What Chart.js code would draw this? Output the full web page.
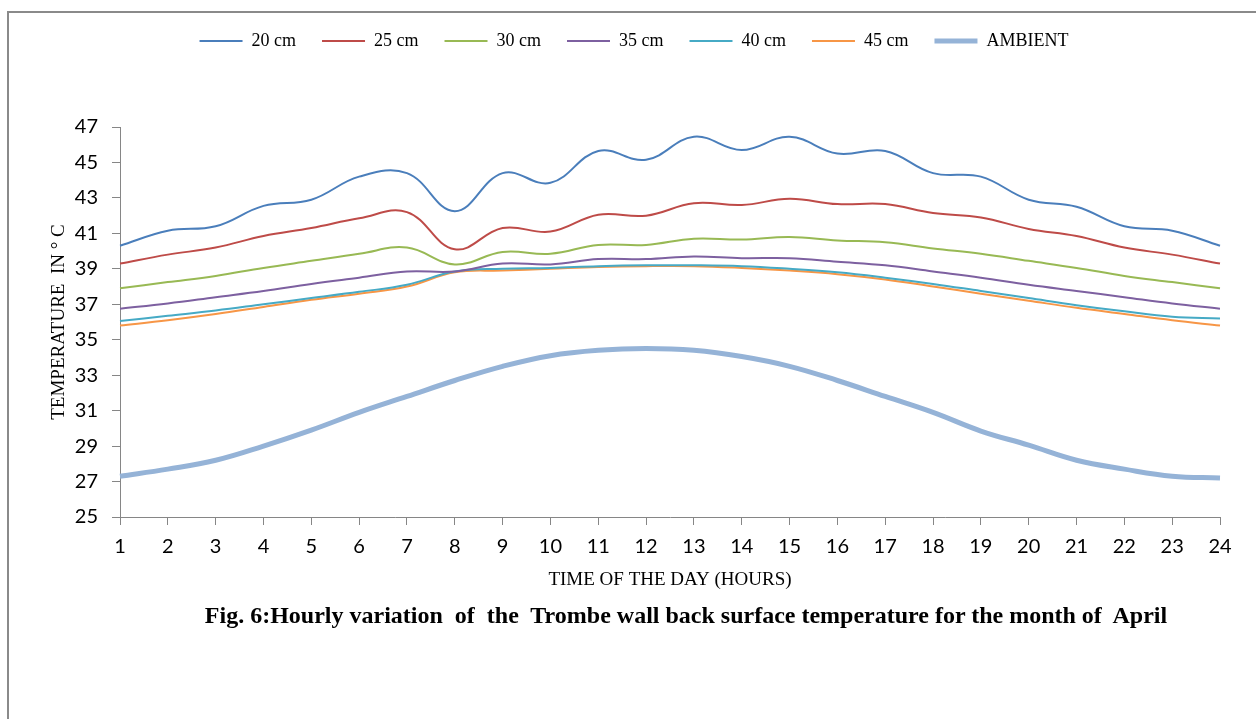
<!DOCTYPE html>
<html>
<head>
<meta charset="utf-8">
<script src="https://cdn.jsdelivr.net/npm/chart.js@4"></script>
<style>
  body { margin: 0; background: #fff; }
  #wrap { position: relative; width: 1256px; height: 719px; overflow: hidden; }
  #frame { position: absolute; left: 7px; top: 11px; width: 1260px; height: 720px;
           border-top: 2px solid #8a8a8a; border-left: 2px solid #8a8a8a; }
  #chart { position: absolute; left: 0; top: 0; }
  #caption { position: absolute; left: 0; width: 1372px; top: 602px; text-align: center;
             font: bold 24px "Liberation Serif", serif; white-space: pre; color: #000; }
</style>
</head>
<body>
<div id="wrap">
  <div id="frame"></div>
  <canvas id="chart" width="1256" height="719"></canvas>
  <div id="caption">Fig. 6:Hourly variation  of  the  Trombe wall back surface temperature for the month of  April</div>
</div>
<script>
// hours of the day
const hours = ["1","2","3","4","5","6","7","8","9","10","11","12","13","14","15","16","17","18","19","20","21","22","23","24"];

// back surface temperature for each wall thickness (deg C)
const wall20 = [40.3,41.15,41.4,42.55,42.9,44.2,44.4,42.25,44.4,43.85,45.65,45.15,46.45,45.7,46.45,45.5,45.65,44.4,44.2,42.9,42.5,41.4,41.15,40.3];
const wall25 = [39.3,39.8,40.2,40.85,41.3,41.85,42.2,40.1,41.3,41.1,42.05,42.0,42.7,42.6,42.95,42.65,42.65,42.15,41.9,41.25,40.85,40.2,39.8,39.3];
const wall30 = [37.9,38.25,38.6,39.05,39.45,39.85,40.2,39.25,39.95,39.85,40.35,40.35,40.7,40.65,40.8,40.6,40.5,40.15,39.85,39.45,39.05,38.6,38.25,37.9];
const wall35 = [36.75,37.05,37.4,37.75,38.15,38.5,38.85,38.85,39.3,39.25,39.55,39.55,39.7,39.6,39.6,39.4,39.2,38.85,38.5,38.1,37.75,37.4,37.05,36.75];
const wall40 = [36.05,36.35,36.65,37.0,37.35,37.7,38.1,38.85,39.0,39.05,39.15,39.2,39.2,39.15,39.0,38.8,38.5,38.15,37.75,37.35,36.95,36.6,36.3,36.2];
const wall45 = [35.8,36.1,36.45,36.85,37.25,37.6,38.0,38.8,38.9,39.0,39.1,39.15,39.15,39.05,38.9,38.7,38.4,38.0,37.6,37.2,36.8,36.45,36.1,35.8];
const ambient = [27.3,27.7,28.2,29.0,29.9,30.9,31.8,32.7,33.5,34.1,34.4,34.5,34.4,34.05,33.5,32.7,31.8,30.9,29.85,29.05,28.2,27.7,27.3,27.2];

const seriesNames = ["20 cm","25 cm","30 cm","35 cm","40 cm","45 cm","AMBIENT"];
const seriesColors = ["#4a7ebb","#be4b48","#98b954","#7d60a0","#46aac5","#f79646","#95b3d7"];
const seriesData = [wall20, wall25, wall30, wall35, wall40, wall45, ambient];

const yMin = 25, yMax = 47, yStep = 2;

const datasets = seriesData.map((d, i) => ({
  label: seriesNames[i],
  data: d,
  borderColor: seriesColors[i],
  backgroundColor: seriesColors[i],
  borderWidth: i == 6 ? 5 : 2,
  pointRadius: 0,
  tension: 0.4,
  fill: false
}));

// push the plot down below the legend
const legendSpace = {
  id: 'legendSpace',
  beforeInit(chart) {
    const fit = chart.legend.fit;
    chart.legend.fit = function () {
      fit.bind(chart.legend)();
      this.height += 67;
    };
  }
};

const axisColor = '#868686';

new Chart(document.getElementById('chart'), {
  type: 'line',
  data: { labels: hours, datasets: datasets },
  plugins: [legendSpace],
  options: {
    responsive: false,
    animation: false,
    layout: { padding: { left: 48, right: 36, top: 6, bottom: 127 } },
    plugins: {
      tooltip: { enabled: false },
      legend: {
        position: 'top',
        labels: {
          usePointStyle: true,
          pointStyle: 'line',
          pointStyleWidth: 43,
          padding: 26,
          color: '#000',
          font: { family: '"Liberation Serif", serif', size: 18 }
        }
      }
    },
    scales: {
      x: {
        afterFit(s) { s.height = 75; },
        grid: { drawOnChartArea: false, drawTicks: true, tickLength: 8, color: axisColor },
        border: { color: axisColor },
        ticks: { color: '#000', padding: 10, maxRotation: 0, autoSkip: false,
                 font: { family: 'Lato, sans-serif', size: 20 } },
        title: { display: true, text: 'TIME OF THE DAY (HOURS)', color: '#000',
                 padding: { top: 0, bottom: 1 },
                 font: { family: '"Liberation Serif", serif', size: 19 } }
      },
      y: {
        min: yMin, max: yMax,
        afterFit(s) { s.width = 72; },
        grid: { drawOnChartArea: false, drawTicks: true, tickLength: 8, color: axisColor },
        border: { color: axisColor },
        ticks: { stepSize: yStep, color: '#000', padding: 14,
                 font: { family: 'Lato, sans-serif', size: 20 } },
        title: { display: true, text: 'TEMPERATURE  IN ° C', color: '#000',
                 padding: { top: 0, bottom: 0 },
                 font: { family: '"Liberation Serif", serif', size: 19 } }
      }
    }
  }
});
</script>
</body>
</html>
